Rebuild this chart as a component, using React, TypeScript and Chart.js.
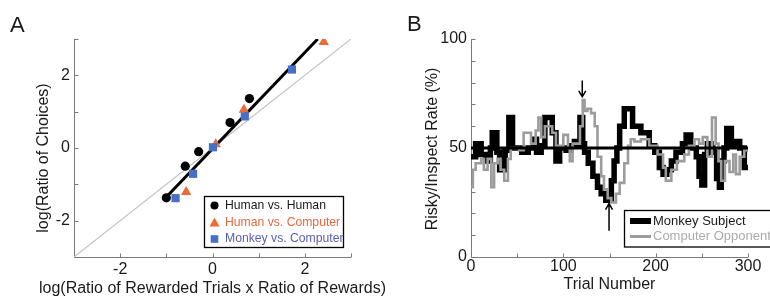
import React, { useEffect, useRef } from 'react';
import { Chart, registerables } from 'chart.js';

Chart.register(...registerables);

const FONT = "'Liberation Sans', Arial, Helvetica, sans-serif";
const TEXT = '#1a1a1a';
const AXIS = '#7a7a7a';
const ORANGE = '#f06a35';
const BLUE = '#4670c6';
const ORANGE_TEXT = '#e8683e';
const BLUE_TEXT = '#5860b2';
const GRAY = '#9c9c9c';

// ---------- Panel A data ----------
const humanHumanX = [-1.0, -0.59, -0.3, 0.38, 0.8];
const humanHumanY = [-1.37, -0.5, -0.1, 0.7, 1.36];
const humanCompX = [-0.57, 0.07, 0.68, 2.41];
const humanCompY = [-1.21, 0.1, 1.05, 2.92];
const monkeyCompX = [-0.8, -0.42, 0.01, 0.7, 1.72];
const monkeyCompY = [-1.38, -0.71, 0.02, 0.87, 2.16];
const fitX = [-1.0, 2.28];
const fitY = [-1.35, 3.0];
const identityXY = [-3, 3];
const axisTicksA = [-3, -2, -1, 0, 1, 2, 3];
const legendA = ['Human vs. Human', 'Human vs. Computer', 'Monkey vs. Computer'];

// ---------- Panel B data ----------
const monkeyTrial = [0, 5, 11, 16, 21, 23, 28, 31, 37, 41, 45, 55, 62, 68, 71, 76, 80, 88, 92, 96, 103, 108, 112, 115, 118, 121, 123, 127, 132, 137, 141, 146, 152, 155, 158, 161, 166, 175, 184, 193, 199, 204, 208, 212, 217, 222, 229, 233, 238, 244, 247, 250, 253, 256, 260, 262, 266, 269, 271, 274, 277, 282, 286, 291, 296, 300];
const monkeyRate = [46, 52, 47, 44, 50, 57, 48, 40, 49, 64, 50, 48, 50, 54, 48, 51, 64, 57, 44, 50, 49, 51, 53, 51, 64, 52, 48, 43, 37, 32, 29, 26, 35, 44, 50, 60, 68, 60, 57, 51, 48, 41, 38, 40, 44, 48, 52, 56, 50, 46, 37, 33, 47, 52, 50, 48, 36, 32, 44, 50, 59, 51, 53, 50, 41, 41];
const computerTrial = [0, 2, 5, 11, 14, 18, 22, 25, 29, 32, 36, 40, 43, 52, 57, 65, 70, 73, 76, 80, 88, 92, 100, 105, 107, 110, 118, 121, 123, 126, 130, 134, 137, 141, 144, 148, 152, 157, 161, 166, 170, 173, 177, 184, 193, 202, 208, 211, 217, 223, 231, 236, 242, 247, 251, 256, 261, 265, 268, 271, 275, 280, 284, 287, 291, 296, 300];
const computerRate = [32, 40, 43, 45, 40, 45, 32, 43, 45, 40, 35, 45, 50, 49, 57, 52, 58, 64, 55, 60, 57, 51, 56, 50, 44, 52, 60, 72, 67, 68, 66, 60, 46, 37, 31, 27, 25, 29, 34, 43, 51, 54, 53, 54, 51, 47, 41, 35, 40, 44, 47, 51, 54, 52, 55, 46, 64, 52, 44, 35, 44, 39, 47, 38, 46, 49, 48];
const referenceTrial = [0, 300];
const referenceRate = [50, 50];
const arrowTrial = [120.5, 149.5];
const arrowFrom = [81, 12];
const arrowTo = [73.5, 24.5];
const axisTicksBX = [0, 50, 100, 150, 200, 250, 300];
const axisTicksBY = [0, 10, 20, 30, 40, 50, 60, 70, 80, 90, 100];
const legendB = ['Monkey Subject', 'Computer Opponent'];

const pts = (xs: number[], ys: number[]) => xs.map((x, i) => ({ x, y: ys[i] }));

function drawAxes(chart: any, xVals: number[], yVals: number[]) {
  const { ctx, chartArea: ca, scales } = chart;
  const L = Math.round(ca.left) + 0.5;
  const B = Math.round(ca.bottom) + 0.5;
  ctx.save();
  ctx.strokeStyle = AXIS;
  ctx.lineWidth = 1;
  ctx.beginPath();
  ctx.moveTo(L, ca.top);
  ctx.lineTo(L, B);
  ctx.lineTo(ca.right, B);
  xVals.forEach((v) => {
    const px = Math.round(scales.x.getPixelForValue(v)) + 0.5;
    ctx.moveTo(px, B);
    ctx.lineTo(px, B - 4);
  });
  yVals.forEach((v) => {
    const py = Math.round(scales.y.getPixelForValue(v)) + 0.5;
    ctx.moveTo(L, py);
    ctx.lineTo(L + 4, py);
  });
  ctx.stroke();
  ctx.restore();
}

function text(ctx: any, s: string, x: number, y: number, size: number, color: string, align = 'left', rot = 0) {
  ctx.save();
  ctx.font = `${size}px ${FONT}`;
  ctx.fillStyle = color;
  ctx.textAlign = align;
  ctx.textBaseline = 'middle';
  ctx.translate(x, y);
  if (rot) ctx.rotate(rot);
  ctx.fillText(s, 0, 0);
  ctx.restore();
}

const panelAPlugin = {
  id: 'panelA',
  beforeDatasetsDraw(chart: any) {
    drawAxes(chart, axisTicksA, axisTicksA);
  },
  afterDraw(chart: any) {
    const { ctx, chartArea: ca } = chart;
    ctx.save();
    ctx.font = `22px ${FONT}`;
    ctx.fillStyle = TEXT;
    ctx.textBaseline = 'alphabetic';
    ctx.fillText('A', 10, 32);
    ctx.restore();
    text(ctx, 'log(Ratio of Rewarded Trials x Ratio of Rewards)', (ca.left + ca.right) / 2, 289, 16, TEXT, 'center');
    text(ctx, 'log(Ratio of Choices)', 44, 158, 16, TEXT, 'center', -Math.PI / 2);
    const bx = 204.5, by = 196.5, bw = 139, bh = 51;
    ctx.save();
    ctx.fillStyle = '#fff';
    ctx.fillRect(bx, by, bw, bh);
    ctx.strokeStyle = '#000';
    ctx.lineWidth = 1.3;
    ctx.strokeRect(bx, by, bw, bh);
    const rows = [205.5, 222.5, 239];
    const mx = 214.5;
    ctx.fillStyle = '#000';
    ctx.beginPath();
    ctx.arc(mx, rows[0], 4, 0, Math.PI * 2);
    ctx.fill();
    ctx.fillStyle = ORANGE;
    ctx.beginPath();
    ctx.moveTo(mx, rows[1] - 5);
    ctx.lineTo(mx + 5, rows[1] + 4);
    ctx.lineTo(mx - 5, rows[1] + 4);
    ctx.closePath();
    ctx.fill();
    ctx.fillStyle = BLUE;
    ctx.fillRect(mx - 3.8, rows[2] - 3.8, 7.6, 7.6);
    ctx.restore();
    text(ctx, legendA[0], 225, rows[0], 12.2, TEXT);
    text(ctx, legendA[1], 225, rows[1], 12.2, ORANGE_TEXT);
    text(ctx, legendA[2], 225, rows[2], 12.2, BLUE_TEXT);
  },
};

const panelBPlugin = {
  id: 'panelB',
  beforeDatasetsDraw(chart: any) {
    drawAxes(chart, axisTicksBX, axisTicksBY);
  },
  afterDraw(chart: any) {
    const { ctx, chartArea: ca, scales } = chart;
    ctx.save();
    ctx.font = `22px ${FONT}`;
    ctx.fillStyle = TEXT;
    ctx.textBaseline = 'alphabetic';
    ctx.fillText('B', 22, 31);
    ctx.restore();
    text(ctx, 'Trial Number', (ca.left + ca.right) / 2, 285, 16, TEXT, 'center');
    text(ctx, 'Risky/Inspect Rate (%)', 47.5, 149, 16, TEXT, 'center', -Math.PI / 2);
    ctx.save();
    ctx.strokeStyle = '#000';
    ctx.lineWidth = 1.5;
    arrowTrial.forEach((t, i) => {
      const x = scales.x.getPixelForValue(t);
      const y0 = scales.y.getPixelForValue(arrowFrom[i]);
      const y1 = scales.y.getPixelForValue(arrowTo[i]);
      const dir = y1 > y0 ? 1 : -1;
      ctx.beginPath();
      ctx.moveTo(x, y0);
      ctx.lineTo(x, y1);
      ctx.moveTo(x - 3.5, y1 - dir * 6);
      ctx.lineTo(x, y1);
      ctx.lineTo(x + 3.5, y1 - dir * 6);
      ctx.stroke();
    });
    ctx.restore();
    const bx = 239.5, by = 210.5, bw = 200, bh = 36.5;
    ctx.save();
    ctx.fillStyle = '#fff';
    ctx.fillRect(bx, by, bw, bh);
    ctx.strokeStyle = '#000';
    ctx.lineWidth = 1.3;
    ctx.strokeRect(bx, by, bw, bh);
    const rows = [221, 236.5];
    ctx.strokeStyle = '#000';
    ctx.lineWidth = 6;
    ctx.beginPath();
    ctx.moveTo(245, rows[0]);
    ctx.lineTo(266, rows[0]);
    ctx.stroke();
    ctx.strokeStyle = GRAY;
    ctx.lineWidth = 3;
    ctx.beginPath();
    ctx.moveTo(245, rows[1]);
    ctx.lineTo(266, rows[1]);
    ctx.stroke();
    ctx.restore();
    text(ctx, legendB[0], 268, rows[0], 13, TEXT);
    text(ctx, legendB[1], 268, rows[1], 13, '#ababab');
  },
};

const tickFont = { family: FONT, size: 16 };

export default function App() {
  const refA = useRef<HTMLCanvasElement>(null);
  const refB = useRef<HTMLCanvasElement>(null);

  useEffect(() => {
    const chartA = new Chart(refA.current as HTMLCanvasElement, {
      type: 'scatter',
      data: {
        datasets: [
          { data: pts(identityXY, identityXY), showLine: true, pointRadius: 0, borderColor: '#c4c4c4', borderWidth: 1.2, order: 5 },
          { data: pts(fitX, fitY), showLine: true, pointRadius: 0, borderColor: '#000', borderWidth: 3, order: 4 },
          { data: pts(humanHumanX, humanHumanY), pointStyle: 'circle', pointRadius: 4.6, backgroundColor: '#000', borderColor: '#000', borderWidth: 0, order: 3 },
          { data: pts(humanCompX, humanCompY), pointStyle: 'triangle', pointRadius: 6, backgroundColor: ORANGE, borderColor: ORANGE, borderWidth: 0, order: 2 },
          { data: pts(monkeyCompX, monkeyCompY), pointStyle: 'rect', pointRadius: 5.8, backgroundColor: BLUE, borderColor: BLUE, borderWidth: 0, order: 1 },
        ],
      } as any,
      plugins: [panelAPlugin],
      options: {
        animation: false,
        responsive: false,
        events: [],
        layout: { padding: { left: 0, top: 39, right: 34, bottom: 0 } },
        plugins: { legend: { display: false }, tooltip: { enabled: false } },
        scales: {
          x: {
            type: 'linear', min: -3, max: 3,
            grid: { display: false, drawTicks: false }, border: { display: false },
            ticks: { stepSize: 1, autoSkip: false, maxRotation: 0, padding: 3, font: tickFont, color: TEXT,
              callback: (v: any) => (Number(v) % 2 === 0 ? String(v) : '') },
            afterFit: (s: any) => { s.height = 41; },
          },
          y: {
            type: 'linear', min: -3, max: 3,
            grid: { display: false, drawTicks: false }, border: { display: false },
            ticks: { stepSize: 1, autoSkip: false, padding: 4, font: tickFont, color: TEXT,
              callback: (v: any) => (Number(v) % 2 === 0 ? String(v) : '') },
            afterFit: (s: any) => { s.width = 74; },
          },
        },
      } as any,
    });

    const chartB = new Chart(refB.current as HTMLCanvasElement, {
      type: 'line',
      data: {
        datasets: [
          { data: pts(referenceTrial, referenceRate), borderColor: '#000', borderWidth: 3, pointRadius: 0, order: 1 },
          { data: pts(computerTrial, computerRate), borderColor: GRAY, borderWidth: 2.6, pointRadius: 0, stepped: 'before', order: 2 },
          { data: pts(monkeyTrial, monkeyRate), borderColor: '#000', borderWidth: 5.5, pointRadius: 0, stepped: 'before', order: 3 },
        ],
      } as any,
      plugins: [panelBPlugin],
      options: {
        animation: false,
        responsive: false,
        events: [],
        layout: { padding: { left: 0, top: 39, right: 22, bottom: 0 } },
        plugins: { legend: { display: false }, tooltip: { enabled: false } },
        scales: {
          x: {
            type: 'linear', min: 0, max: 300,
            grid: { display: false, drawTicks: false }, border: { display: false },
            ticks: { stepSize: 50, autoSkip: false, maxRotation: 0, padding: 0, font: tickFont, color: TEXT,
              callback: (v: any) => (Number(v) % 100 === 0 ? String(v) : '') },
            afterFit: (s: any) => { s.height = 41; },
          },
          y: {
            type: 'linear', min: 0, max: 100,
            grid: { display: false, drawTicks: false }, border: { display: false },
            ticks: { stepSize: 10, autoSkip: false, padding: 4, font: tickFont, color: TEXT,
              callback: (v: any) => (Number(v) % 50 === 0 ? String(v) : '') },
            afterFit: (s: any) => { s.width = 86; },
          },
        },
      } as any,
    });

    return () => {
      chartA.destroy();
      chartB.destroy();
    };
  }, []);

  return (
    <div style={{ position: 'absolute', left: 0, top: 0, width: 770, height: 298, background: '#fff', overflow: 'hidden' }}>
      <canvas ref={refA} width={385} height={298} style={{ position: 'absolute', left: 0, top: 0, width: 385, height: 298 }} />
      <canvas ref={refB} width={385} height={298} style={{ position: 'absolute', left: 385, top: 0, width: 385, height: 298 }} />
    </div>
  );
}
